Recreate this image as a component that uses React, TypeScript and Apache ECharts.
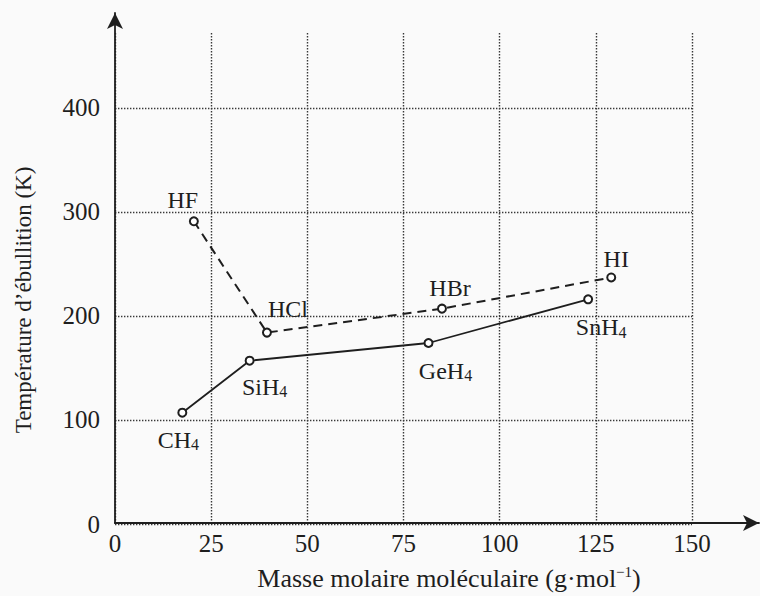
import React, { useEffect, useRef } from "react";
import * as echarts from "echarts";

// Hydrogen halides (dashed line)
const halideNames = ["HF", "HCl", "HBr", "HI"];
const halideMass = [20.5, 39.5, 85, 129];
const halideTeb = [291, 184, 207, 237];

// Group 14 hydrides (solid line)
const hydrideNames = ["CH4", "SiH4", "GeH4", "SnH4"];
const hydrideMass = [17.5, 35, 81.5, 123];
const hydrideTeb = [107, 157, 174, 216];

// Axis ticks
const xTicks = [0, 25, 50, 75, 100, 125, 150];
const yTicks = [0, 100, 200, 300, 400];

// label offsets (style)
const halideOffsets = [[-11, -21], [21, -24], [8, -21], [5, -18]];
const hydrideOffsets = [[-4, 27], [15, 26], [17, 28], [13, 28]];

const FONT = "Liberation Serif";
const INK = "#1e1e1e";

function fmtName(n: string) {
  if (n.endsWith("4")) return "{a|" + n.slice(0, -1) + "}{sub|4}";
  return "{a|" + n + "}";
}

const labelRich = {
  a: { fontFamily: FONT, fontSize: 24, color: INK, lineHeight: 26 },
  sub: { fontFamily: FONT, fontSize: 16, color: INK, lineHeight: 13, verticalAlign: "bottom" },
};

export default function App() {
  const ref = useRef<HTMLDivElement>(null);
  useEffect(() => {
    if (!ref.current) return;
    const chart = echarts.init(ref.current, undefined, { renderer: "svg" });
    const mk = (names: string[], xs: number[], ys: number[], offs: number[][]) =>
      names.map((n, i) => ({
        value: [xs[i], ys[i]],
        name: n,
        label: {
          show: true,
          position: "inside",
          offset: offs[i],
          formatter: fmtName(n),
          rich: labelRich,
        },
      }));
    const gridLine = { show: true, lineStyle: { color: "#383838", width: 1.4, type: [1.4, 1.6] } };
    chart.setOption({
      animation: false,
      backgroundColor: "#fafafa",
      textStyle: { fontFamily: FONT },
      grid: [
        { left: 115, top: 33, width: 577, height: 491, containLabel: false },
        { left: 115, top: 13, right: 1, height: 511, containLabel: false },
      ],
      xAxis: [
        {
          gridIndex: 0,
          type: "value",
          min: xTicks[0],
          max: xTicks[xTicks.length - 1],
          interval: 25,
          axisLine: { show: false },
          axisTick: { show: false },
          axisLabel: { fontFamily: FONT, fontSize: 25, color: INK, margin: 7 },
          splitLine: gridLine,
        },
        {
          gridIndex: 1,
          type: "value",
          min: 0,
          max: 1,
          axisLine: {
            show: true,
            symbol: ["none", "arrow"],
            symbolSize: [12, 16],
            lineStyle: { color: INK, width: 1.8 },
          },
          axisTick: { show: false },
          axisLabel: { show: false },
          splitLine: { show: false },
          name: "{a|Masse molaire moléculaire (g·mol}{sup|−1}{a|)}",
          nameLocation: "middle",
          nameGap: 41,
          nameTextStyle: {
            padding: [0, 0, 0, 24],
            rich: {
              a: { fontFamily: FONT, fontSize: 26, color: INK, lineHeight: 28 },
              sup: { fontFamily: FONT, fontSize: 15, color: INK, lineHeight: 16, verticalAlign: "top" },
            },
          },
        },
      ],
      yAxis: [
        {
          gridIndex: 0,
          type: "value",
          min: yTicks[0],
          max: 472,
          interval: 100,
          axisLine: { show: false },
          axisTick: { show: false },
          axisLabel: { fontFamily: FONT, fontSize: 25, color: INK, margin: 15, showMaxLabel: false },
          splitLine: { ...gridLine, showMaxLine: false },
        },
        {
          gridIndex: 1,
          type: "value",
          min: 0,
          max: 1,
          axisLine: {
            show: true,
            symbol: ["none", "arrow"],
            symbolSize: [12, 16],
            lineStyle: { color: INK, width: 1.8 },
          },
          axisTick: { show: false },
          axisLabel: { show: false },
          splitLine: { show: false },
          name: "Température d’ébullition (K)",
          nameLocation: "middle",
          nameGap: 80,
          nameTextStyle: { fontFamily: FONT, fontSize: 23, color: INK, padding: [0, 64, 0, 0] },
        },
      ],
      series: [
        {
          type: "line",
          xAxisIndex: 0,
          yAxisIndex: 0,
          data: mk(halideNames, halideMass, halideTeb, halideOffsets),
          symbol: "emptyCircle",
          symbolSize: 8,
          lineStyle: { color: INK, width: 2, type: [9, 6] },
          itemStyle: { color: INK, borderWidth: 1.6 },
          z: 5,
        },
        {
          type: "line",
          xAxisIndex: 0,
          yAxisIndex: 0,
          data: mk(hydrideNames, hydrideMass, hydrideTeb, hydrideOffsets),
          symbol: "emptyCircle",
          symbolSize: 8,
          lineStyle: { color: INK, width: 1.8 },
          itemStyle: { color: INK, borderWidth: 1.6 },
          z: 5,
        },
      ],
    });
    return () => chart.dispose();
  }, []);
  return (
    <div
      ref={ref}
      style={{ position: "absolute", left: 0, top: 0, width: 760, height: 596 }}
    />
  );
}
